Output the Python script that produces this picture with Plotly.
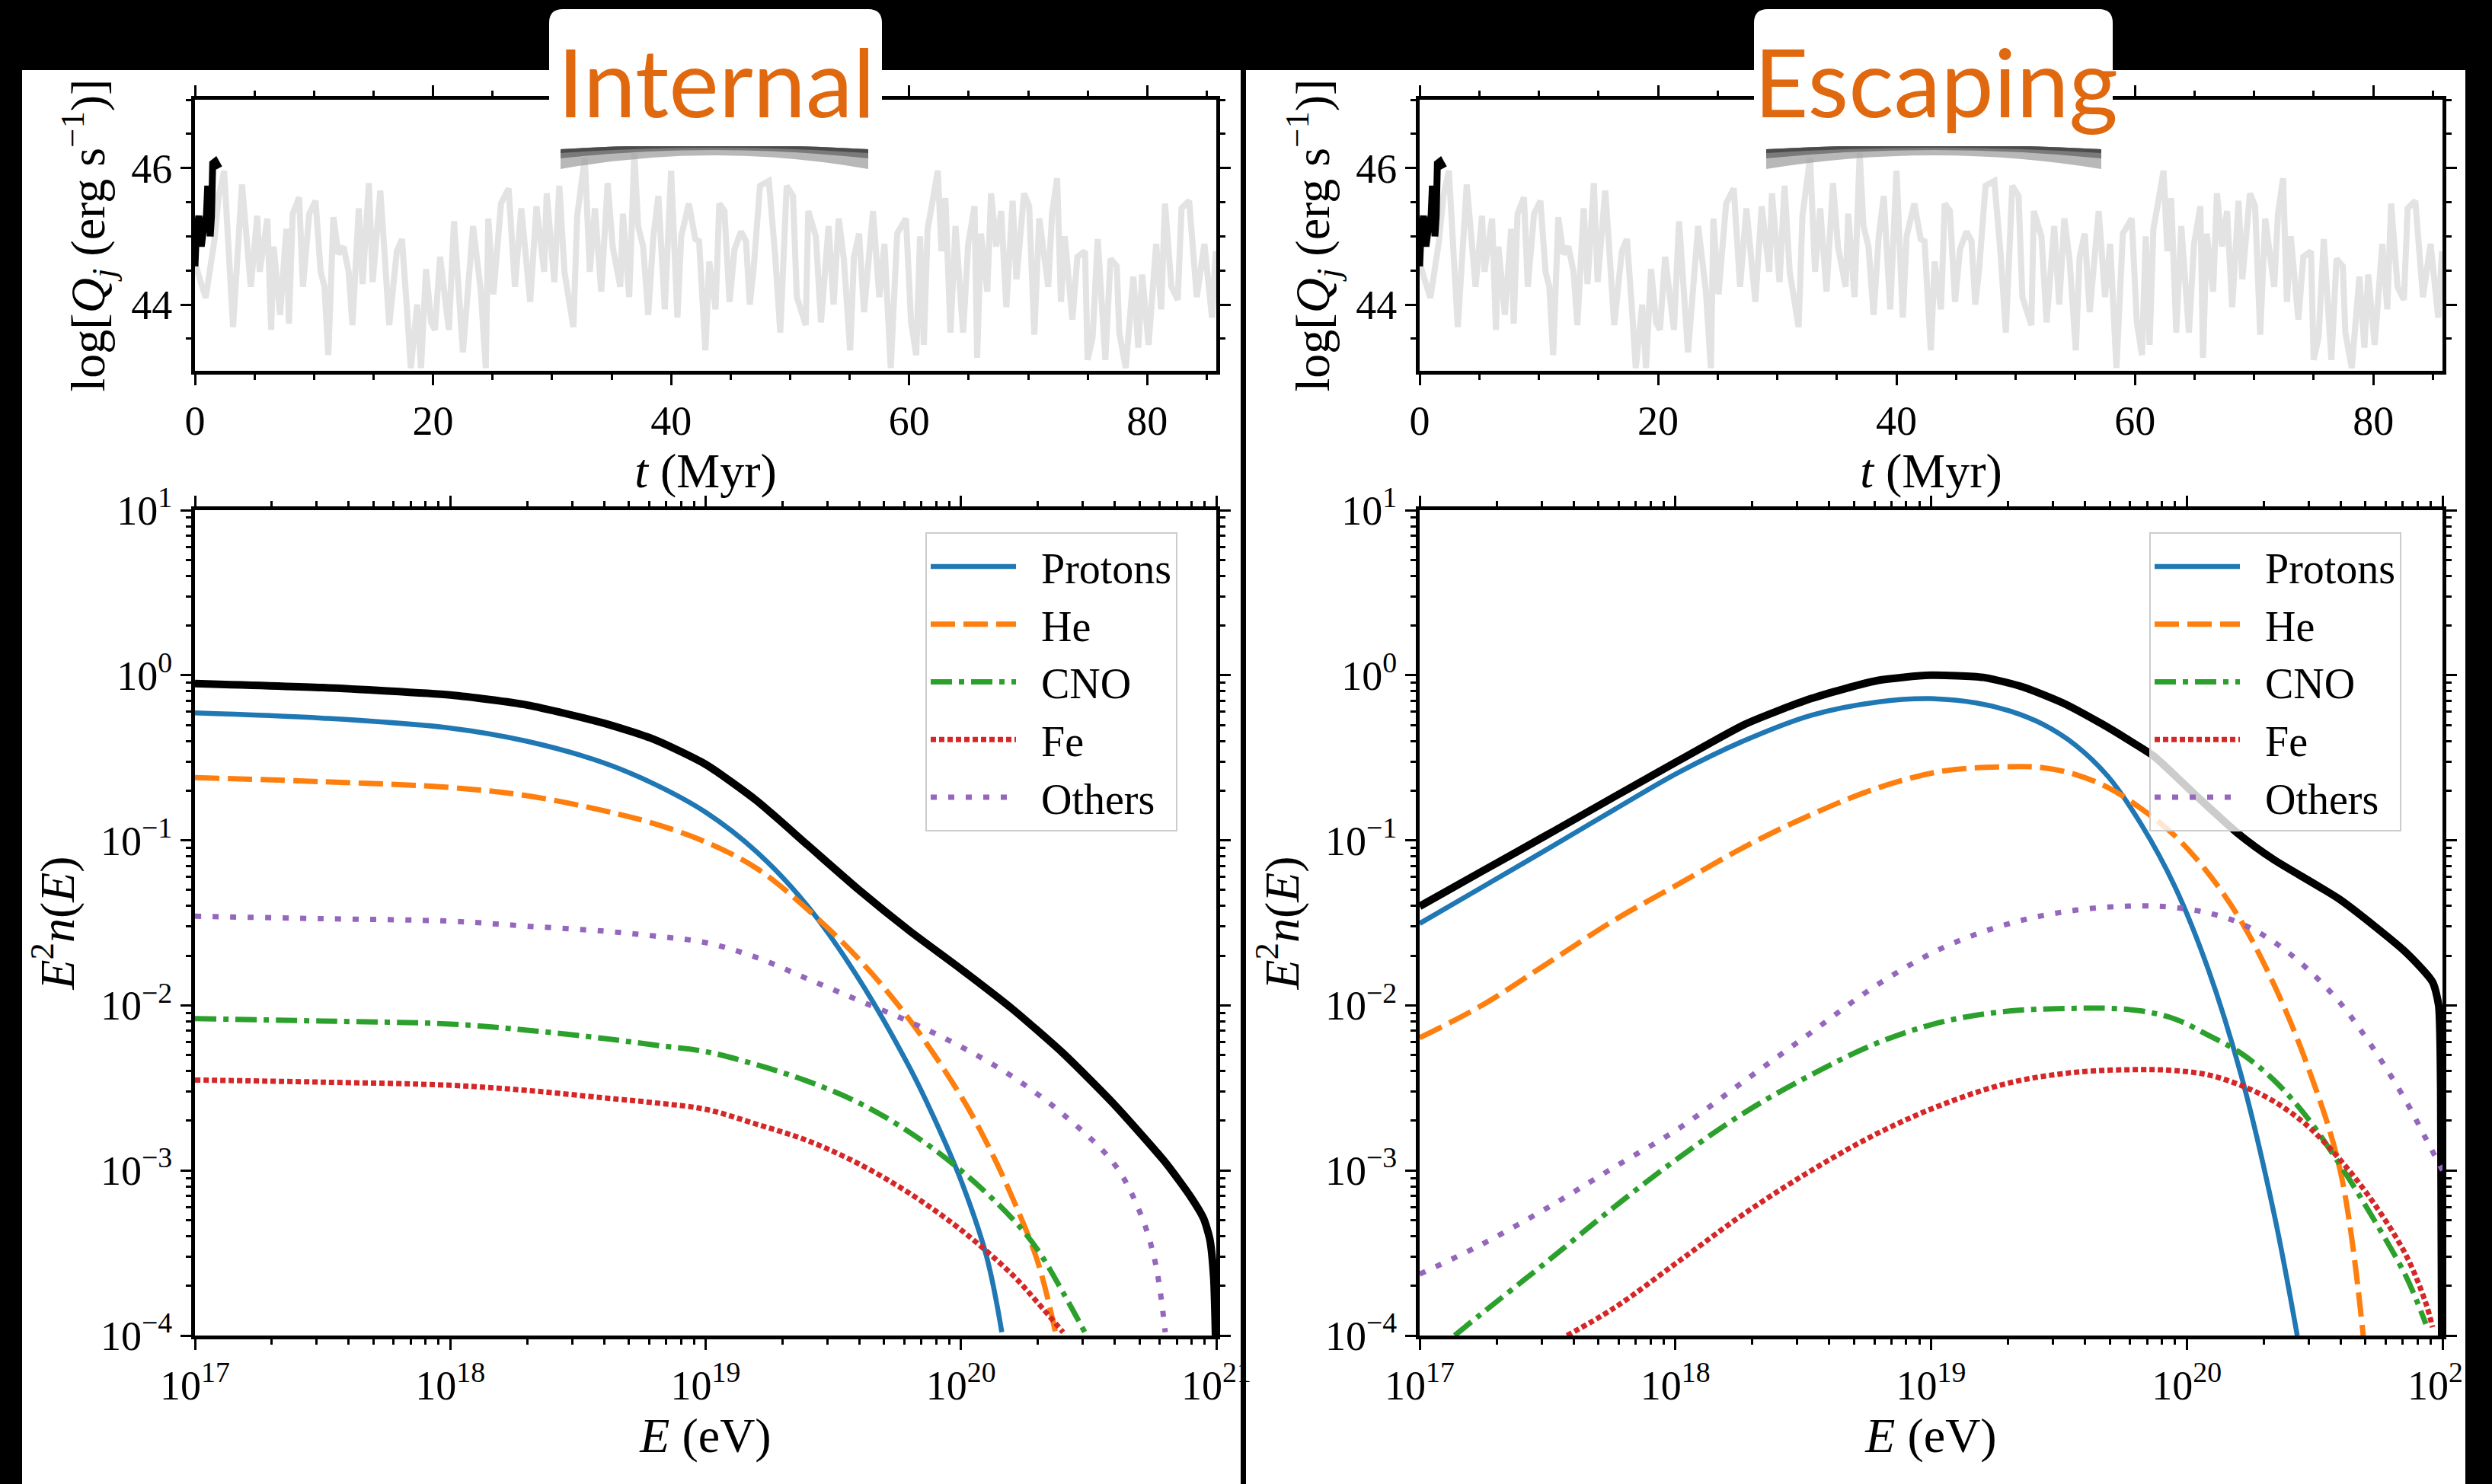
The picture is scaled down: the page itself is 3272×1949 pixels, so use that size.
import plotly.graph_objects as go

W, H = 3272, 1949

# ---------------- data: jet power history (log Q_j, erg/s) ----------------
t_history = [0.0, 0.9, 1.6, 2.0, 2.45, 3.2, 3.95, 4.69, 5.23, 5.44, 6.08, 6.40, 6.61, 7.15, 7.68, 7.89, 8.21, 8.75,
             9.07, 9.60, 10.13, 10.56, 10.88, 11.2, 11.63, 12.05, 12.48, 12.91, 13.23, 13.76, 14.08, 14.61, 14.93,
             15.57, 15.89, 16.32, 16.96, 17.39, 17.81, 18.13, 18.67, 18.99, 19.41, 19.84, 20.16, 20.59, 21.33,
             21.76, 22.51, 23.36, 24.0, 24.43, 24.64, 25.07, 25.71, 26.35, 26.88, 27.41, 28.16, 28.69, 29.33,
             29.55, 30.19, 30.61, 31.04, 31.79, 32.11, 32.75, 33.17, 33.6, 34.13, 34.67, 35.09, 35.73, 35.95,
             36.48, 36.91, 37.23, 37.65, 38.08, 38.51, 38.93, 39.47, 40.0, 40.53, 40.85, 41.49, 42.03, 42.35,
             42.88, 43.2, 43.73, 44.05, 44.48, 44.91, 45.33, 45.87, 46.29, 46.61, 46.93, 47.47, 48.21, 48.75,
             49.17, 49.71, 50.24, 50.56, 50.99, 51.31, 51.52, 52.16, 52.59, 53.23, 53.65, 54.08, 54.51, 55.04,
             55.36, 55.79, 56.21, 56.96, 57.49, 57.92, 58.45, 58.99, 59.73, 60.16, 60.59, 60.91, 61.23, 61.55,
             61.97, 62.4, 62.72, 63.04, 63.47, 63.89, 64.53, 64.96, 65.49, 65.71, 66.03, 66.56, 66.88, 67.31,
             67.73, 68.16, 68.69, 69.01, 69.65, 70.08, 70.51, 70.93, 71.68, 72.0, 72.43, 72.75, 73.07, 73.71,
             74.13, 74.77, 74.99, 75.41, 75.84, 76.48, 76.91, 77.44, 77.65, 78.19, 78.83, 79.25, 79.57, 80.11,
             80.75, 81.17, 81.49, 82.03, 82.56, 82.88, 83.52, 84.16, 84.8, 85.44, 85.76]
logQ_history = [44.6, 44.1, 44.9, 45.6, 45.96, 43.67, 45.76, 44.26, 45.30, 44.48, 45.26, 43.63, 44.85, 43.85, 45.11,
                43.72, 45.33, 45.57, 44.26, 45.33, 45.52, 44.48, 44.26, 43.26, 45.28, 44.74, 44.85, 44.48, 43.70,
                45.41, 44.30, 45.78, 44.33, 45.67, 44.85, 43.70, 44.78, 44.96, 43.93, 43.07, 44.0, 43.07, 44.52,
                43.74, 43.63, 44.70, 43.63, 45.22, 43.30, 45.15, 44.22, 43.07, 45.26, 44.15, 45.48, 45.70, 44.26,
                45.41, 44.04, 45.44, 44.48, 45.63, 44.33, 45.74, 44.48, 43.67, 45.30, 46.15, 44.48, 45.41, 44.19,
                45.78, 44.85, 44.26, 45.33, 44.11, 46.22, 45.15, 44.85, 43.85, 45.0, 45.59, 43.93, 45.96, 43.81,
                45.0, 45.48, 44.96, 44.93, 43.33, 44.63, 43.93, 45.48, 45.37, 44.04, 44.81, 45.07, 44.93, 44.0,
                44.52, 45.74, 45.81, 44.70, 43.59, 45.74, 45.59, 44.11, 43.89, 43.70, 45.37, 45.0, 43.74, 45.15,
                44.0, 45.26, 44.67, 43.33, 44.70, 45.04, 43.89, 45.37, 44.11, 44.89, 43.07, 45.04, 45.26, 43.74,
                43.26, 45.0, 43.41, 45.11, 45.52, 45.96, 44.78, 45.56, 43.59, 45.15, 43.59, 44.89, 45.44, 43.22,
                45.04, 44.19, 45.63, 44.85, 45.37, 43.96, 45.52, 44.37, 45.63, 45.44, 43.56, 45.26, 44.26, 45.33,
                45.85, 44.04, 45.0, 43.78, 44.70, 44.78, 43.19, 43.52, 44.96, 43.19, 44.67, 44.56, 43.59, 43.07,
                44.41, 43.37, 44.44, 43.41, 44.89, 43.93, 45.48, 44.26, 44.07, 45.41, 45.52, 44.11, 44.89, 43.81,
                44.78]
t_current = [0.0, 0.1, 0.32, 0.53, 0.75, 0.96, 1.07, 1.28, 1.39, 1.49, 1.71, 2.03]
logQ_current = [44.56, 45.0, 45.3, 44.85, 45.15, 45.3, 45.74, 45.0, 45.3, 46.07, 46.1, 46.0]

# ---------------- data: spectra, Internal (log10 E [eV], log10 E^2 n(E)) ----------------
int_total_logE = [17.0, 17.5, 18.0, 18.3, 18.6, 18.8, 19.0, 19.2, 19.4, 19.6, 19.8, 20.0, 20.2, 20.4, 20.6, 20.8,
                  20.9, 20.95, 20.975, 20.99, 20.997]
int_total_logy = [-0.05, -0.075, -0.12, -0.18, -0.29, -0.39, -0.54, -0.76, -1.03, -1.30, -1.55, -1.78, -2.02, -2.29,
                  -2.60, -2.95, -3.16, -3.29, -3.42, -3.65, -4.0]
int_p_logE = [17.0, 17.5, 18.0, 18.3, 18.6, 18.8, 19.0, 19.2, 19.4, 19.6, 19.8, 19.9, 20.0, 20.1, 20.16]
int_p_logy = [-0.228, -0.26, -0.32, -0.40, -0.53, -0.66, -0.83, -1.07, -1.40, -1.84, -2.38, -2.70, -3.06, -3.52,
              -3.98]
int_he_logE = [17.0, 17.5, 18.0, 18.3, 18.6, 18.8, 19.0, 19.2, 19.4, 19.6, 19.8, 20.0, 20.1, 20.2, 20.3, 20.37]
int_he_logy = [-0.62, -0.645, -0.68, -0.73, -0.82, -0.90, -1.01, -1.17, -1.42, -1.72, -2.09, -2.55, -2.83, -3.16,
               -3.55, -3.98]
int_cno_logE = [17.0, 17.5, 18.0, 18.3, 18.6, 18.8, 19.0, 19.2, 19.4, 19.6, 19.8, 20.0, 20.2, 20.3, 20.4, 20.485]
int_cno_logy = [-2.08, -2.095, -2.113, -2.15, -2.20, -2.24, -2.28, -2.36, -2.46, -2.59, -2.77, -3.0, -3.29, -3.48,
                -3.74, -3.98]
int_fe_logE = [17.0, 17.5, 18.0, 18.3, 18.6, 18.8, 19.0, 19.2, 19.4, 19.6, 19.8, 20.0, 20.2, 20.3, 20.4]
int_fe_logy = [-2.452, -2.465, -2.484, -2.515, -2.56, -2.59, -2.63, -2.72, -2.82, -2.96, -3.14, -3.36, -3.63, -3.80,
               -3.98]
int_oth_logE = [17.0, 17.5, 18.0, 18.3, 18.6, 18.8, 19.0, 19.2, 19.4, 19.6, 19.8, 20.0, 20.2, 20.4, 20.6, 20.7,
                20.76, 20.8]
int_oth_logy = [-1.46, -1.475, -1.49, -1.52, -1.55, -1.58, -1.62, -1.71, -1.84, -1.97, -2.10, -2.25, -2.43, -2.66,
                -2.96, -3.25, -3.55, -3.98]

# ---------------- data: spectra, Escaping ----------------
esc_total_logE = [17.0, 17.24, 17.5, 17.757, 18.016, 18.274, 18.532, 18.79, 18.997, 19.204, 19.359, 19.514, 19.669,
                  19.773, 19.871, 20.03, 20.199, 20.341, 20.6, 20.858, 20.961, 20.985, 20.993, 20.997]
esc_total_logy = [-1.40, -1.191, -0.966, -0.74, -0.515, -0.296, -0.141, -0.032, 0.0, -0.013, -0.071, -0.167, -0.296,
                  -0.393, -0.49, -0.72, -0.957, -1.118, -1.36, -1.68, -1.858, -2.0, -2.5, -4.0]
esc_p_logE = [17.0, 17.24, 17.5, 17.757, 18.016, 18.274, 18.532, 18.791, 18.997, 19.178, 19.307, 19.437, 19.566,
              19.695, 19.824, 19.953, 20.083, 20.212, 20.341, 20.432]
esc_p_logy = [-1.504, -1.288, -1.053, -0.818, -0.586, -0.393, -0.242, -0.162, -0.142, -0.168, -0.216, -0.297,
              -0.425, -0.619, -0.909, -1.279, -1.778, -2.42, -3.26, -4.0]
esc_he_logE = [17.0, 17.24, 17.5, 17.757, 18.016, 18.274, 18.532, 18.791, 19.049, 19.307, 19.437, 19.566, 19.695,
               19.824, 19.953, 20.083, 20.212, 20.341, 20.47, 20.6, 20.69]
esc_he_logy = [-2.196, -2.003, -1.745, -1.488, -1.262, -1.037, -0.844, -0.683, -0.58, -0.554, -0.56, -0.602, -0.683,
               -0.811, -0.972, -1.198, -1.488, -1.874, -2.357, -3.0, -4.0]
esc_cno_logE = [17.137, 17.24, 17.5, 17.757, 18.016, 18.274, 18.532, 18.791, 19.049, 19.307, 19.566, 19.695, 19.824,
                19.953, 20.083, 20.212, 20.341, 20.47, 20.6, 20.729, 20.858, 20.935]
esc_cno_logy = [-4.0, -3.87, -3.55, -3.226, -2.92, -2.646, -2.42, -2.227, -2.098, -2.034, -2.018, -2.018, -2.034,
                -2.082, -2.18, -2.29, -2.453, -2.678, -2.968, -3.29, -3.644, -3.93]
esc_fe_logE = [17.576, 17.757, 18.016, 18.274, 18.532, 18.791, 19.049, 19.307, 19.566, 19.824, 19.953, 20.083,
               20.212, 20.341, 20.47, 20.6, 20.729, 20.858, 20.935, 20.961]
esc_fe_logy = [-4.0, -3.837, -3.547, -3.257, -3.0, -2.775, -2.598, -2.469, -2.405, -2.389, -2.395, -2.421, -2.485,
               -2.582, -2.727, -2.936, -3.193, -3.515, -3.805, -3.95]
esc_oth_logE = [17.0, 17.24, 17.5, 17.757, 18.016, 18.274, 18.532, 18.791, 19.049, 19.307, 19.566, 19.824, 19.953,
                20.083, 20.212, 20.341, 20.47, 20.6, 20.729, 20.858, 20.935, 21.0]
esc_oth_logy = [-3.628, -3.45, -3.226, -2.984, -2.743, -2.453, -2.163, -1.874, -1.649, -1.504, -1.423, -1.397,
                -1.407, -1.44, -1.504, -1.616, -1.777, -1.986, -2.26, -2.582, -2.807, -3.0]

species = ["Protons", "He", "CNO", "Fe", "Others"]
colors = ["#1f77b4", "#ff7f0e", "#2ca02c", "#d62728", "#9467bd"]
dashes = ["solid", "32px,11px", "28px,9px,7px,9px", "7px,4px", "8px,15px"]
widths = [6.5, 7, 7, 7, 7]

int_series = [(int_p_logE, int_p_logy), (int_he_logE, int_he_logy), (int_cno_logE, int_cno_logy),
              (int_fe_logE, int_fe_logy), (int_oth_logE, int_oth_logy)]
esc_series = [(esc_p_logE, esc_p_logy), (esc_he_logE, esc_he_logy), (esc_cno_logE, esc_cno_logy),
              (esc_fe_logE, esc_fe_logy), (esc_oth_logE, esc_oth_logy)]


def px(x):
    return x / W


def py(y):
    return 1 - y / H


def lin(vals):
    return [10.0 ** v for v in vals]


fig = go.Figure()

# ---- time series, both panels ----
for xa, ya in (("x", "y"), ("x3", "y3")):
    fig.add_trace(go.Scatter(x=t_history, y=logQ_history, mode="lines", xaxis=xa, yaxis=ya,
                             line=dict(color="#e3e3e3", width=8), showlegend=False, hoverinfo="skip"))
    fig.add_trace(go.Scatter(x=t_current, y=logQ_current, mode="lines", xaxis=xa, yaxis=ya,
                             line=dict(color="black", width=9), showlegend=False, hoverinfo="skip"))

# ---- spectra ----
NB = "\u00a0\u00a0"
for (tot_E, tot_y), series, xa, ya, lg in (((int_total_logE, int_total_logy), int_series, "x2", "y2", "legend"),
                                         ((esc_total_logE, esc_total_logy), esc_series, "x4", "y4", "legend2")):
    fig.add_trace(go.Scatter(x=lin(tot_E), y=lin(tot_y), mode="lines",
                             xaxis=xa, yaxis=ya, line=dict(color="black", width=10, shape="spline", smoothing=0.6),
                             showlegend=False, hoverinfo="skip"))
    for i, (lE, ly) in enumerate(series):
        fig.add_trace(go.Scatter(x=lin(lE), y=lin(ly), mode="lines",
                                 xaxis=xa, yaxis=ya, name=NB + species[i], legend=lg,
                                 line=dict(color=colors[i], width=widths[i], dash=dashes[i], shape="spline",
                                           smoothing=1.0)))

SERIF = "Liberation Serif"
tickfont = dict(family=SERIF, size=54, color="black")
titlefont = dict(family=SERIF, size=64, color="black")
base = dict(showline=True, linecolor="black", linewidth=5, mirror="ticks", ticks="outside", ticklen=14,
            tickwidth=3, tickcolor="black", showgrid=False, zeroline=False, tickfont=tickfont, automargin=False)

LX = (256, 1597)
RX = (1864, 3207)
TOPY = (131, 487)
BOTY = (670, 1754)

dec_minor = [m * 10.0 ** d for d in range(-5, 22) for m in range(2, 10)]


def top_x(dom):
    return dict(base, domain=[px(dom[0]), px(dom[1])], range=[0, 85.8], dtick=20, tick0=0,
                minor=dict(ticks="outside", ticklen=7, tickwidth=2.5, tickcolor="black", dtick=5, tick0=0),
                title=dict(text="<i>t</i> (Myr)", font=titlefont))


def top_y():
    return dict(base, domain=[py(TOPY[1]), py(TOPY[0])], range=[43.03, 47.0], dtick=2, tick0=0,
                minor=dict(ticks="outside", ticklen=7, tickwidth=2.5, tickcolor="black", dtick=0.5, tick0=0),
                title=dict(text="log[<i>Q<sub>j</sub></i> (erg s<sup>−1</sup>)]", font=titlefont))


def bot_x(dom):
    return dict(base, type="log", domain=[px(dom[0]), px(dom[1])], range=[17, 21],
                tickvals=[10.0 ** k for k in range(17, 22)],
                ticktext=["10<sup>%d</sup>" % k for k in range(17, 22)],
                minor=dict(ticks="outside", ticklen=7, tickwidth=2.5, tickcolor="black", tickmode="array",
                           tickvals=[v for v in dec_minor if 1e17 < v < 1e21]),
                title=dict(text="<i>E</i> (eV)", font=titlefont))


def bot_y():
    return dict(base, type="log", domain=[py(BOTY[1]), py(BOTY[0])], range=[-4, 1],
                tickvals=[10.0 ** k for k in range(-4, 2)],
                ticktext=[("10<sup>%d</sup>" % k).replace("-", "−") for k in range(-4, 2)],
                minor=dict(ticks="outside", ticklen=7, tickwidth=2.5, tickcolor="black", tickmode="array",
                           tickvals=[v for v in dec_minor if 1e-4 < v < 10]),
                title=dict(text="<i>E</i><sup>2</sup><i>n</i>(<i>E</i>)", font=titlefont))


legend_common = dict(xanchor="left", yanchor="top", bgcolor="rgba(255,255,255,0.8)", bordercolor="#cccccc",
                     borderwidth=2, font=dict(family=SERIF, size=56, color="black"), itemwidth=112,
                     tracegroupgap=0)


def rrect(x0, y0, x1, y1, r):
    rx, ry = r / W, r / H
    X0, X1, Y0, Y1 = px(x0), px(x1), py(y0), py(y1)
    return (f"M {X0 + rx},{Y0} L {X1 - rx},{Y0} Q {X1},{Y0} {X1},{Y0 - ry} L {X1},{Y1 + ry} "
            f"Q {X1},{Y1} {X1 - rx},{Y1} L {X0 + rx},{Y1} Q {X0},{Y1} {X0},{Y1 + ry} L {X0},{Y0 - ry} "
            f"Q {X0},{Y0} {X0 + rx},{Y0} Z")


def smear(x0, x1, ytop_end, ytop_mid, ybot_end, ybot_mid):
    xm = (x0 + x1) / 2
    return (f"M {px(x0)},{py(ytop_end)} Q {px(xm)},{py(2 * ytop_mid - ytop_end)} {px(x1)},{py(ytop_end)} "
            f"L {px(x1)},{py(ybot_end)} Q {px(xm)},{py(2 * ybot_mid - ybot_end)} {px(x0)},{py(ybot_end)} Z")


shapes = [
    dict(type="rect", xref="paper", yref="paper", x0=px(29), x1=px(1629), y0=0, y1=py(92),
         fillcolor="white", line=dict(width=0), layer="below"),
    dict(type="rect", xref="paper", yref="paper", x0=px(1636), x1=px(3237), y0=0, y1=py(92),
         fillcolor="white", line=dict(width=0), layer="below"),
    dict(type="rect", xref="paper", yref="paper", x0=px(1629), x1=px(1636), y0=0, y1=py(92),
         fillcolor="black", line=dict(width=0), layer="above"),
    dict(type="rect", xref="paper", yref="paper", x0=px(3237), x1=1, y0=0, y1=1,
         fillcolor="black", line=dict(width=0), layer="above"),
]
for (bx0, bx1, sx0, sx1) in ((721, 1158, 736, 1140), (2303, 2774, 2319, 2759)):
    shapes.append(dict(type="path", xref="paper", yref="paper", path=smear(sx0, sx1, 196, 190, 222, 204),
                       fillcolor="rgba(160,160,160,0.75)", line=dict(width=0), layer="above"))
    shapes.append(dict(type="path", xref="paper", yref="paper", path=smear(sx0, sx1, 196, 190, 208, 197),
                       fillcolor="rgba(110,110,110,0.85)", line=dict(width=0), layer="above"))
    shapes.append(dict(type="path", xref="paper", yref="paper", path=smear(sx0, sx1, 196, 190, 201, 194),
                       fillcolor="rgba(70,70,70,0.9)", line=dict(width=0), layer="above"))
    shapes.append(dict(type="path", xref="paper", yref="paper", path=rrect(bx0, 12, bx1, 192, 18),
                       fillcolor="white", line=dict(width=0), layer="above"))

annotations = [
    dict(text="Internal", x=px(940), y=py(106), xref="paper", yref="paper", xanchor="center", yanchor="middle",
         showarrow=False, font=dict(family="Lato", size=124, color="#E0680F")),
    dict(text="Escaping", x=px(2542), y=py(106), xref="paper", yref="paper", xanchor="center", yanchor="middle",
         showarrow=False, font=dict(family="Lato", size=124, color="#E0680F")),
]

fig.update_layout(
    width=W, height=H, margin=dict(l=0, r=0, t=0, b=0, pad=0, autoexpand=False),
    paper_bgcolor="black", plot_bgcolor="white",
    xaxis=dict(top_x(LX), anchor="y"), yaxis=dict(top_y(), anchor="x"),
    xaxis2=dict(bot_x(LX), anchor="y2"), yaxis2=dict(bot_y(), anchor="x2"),
    xaxis3=dict(top_x(RX), anchor="y3"), yaxis3=dict(top_y(), anchor="x3"),
    xaxis4=dict(bot_x(RX), anchor="y4"), yaxis4=dict(bot_y(), anchor="x4"),
    legend=dict(legend_common, x=px(1215), y=py(699)),
    legend2=dict(legend_common, x=px(2822), y=py(699)),
    shapes=shapes, annotations=annotations,
    font=dict(family=SERIF, color="black"),
)

fig.write_html("out.html")
